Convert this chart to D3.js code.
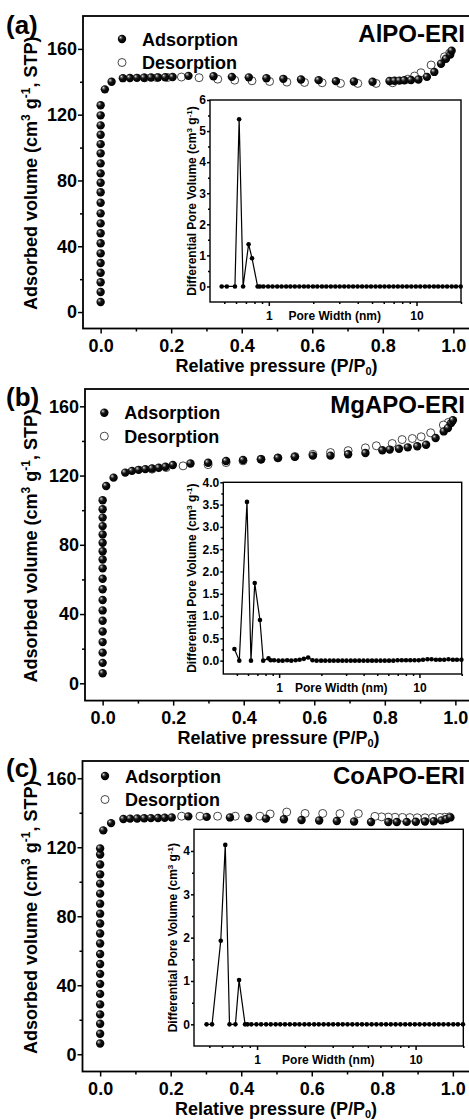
<!DOCTYPE html>
<html>
<head>
<meta charset="utf-8">
<script src="https://cdn.jsdelivr.net/npm/d3@7"></script>
<style>
  body { margin: 0; background: #fff; }
  svg text { font-family: "Liberation Sans", Arial, sans-serif; font-weight: bold; fill: #000; }
</style>
</head>
<body>
<div id="chart"></div>
<script>
// ---- isotherm data (P/P0, cm3/g) ----
var aAdsP = [0,0,0,0,0,0,0,0,0,0,0,0,0,0,0,0,0,0,0,0,0, 0.012,0.031,
  0.063,0.083,0.103,0.123,0.143,0.163,0.183,0.204,
  0.249,0.320,0.372,0.420,0.470,0.518,0.568,0.618,0.667,0.718,0.771,
  0.819,0.833,0.847,0.861,0.880, 0.901,0.925,0.946,0.965,0.979,0.991,0.995];
var aAdsV = [6.1,12.2,18.1,23.9,29.8,35.7,41.8,47.9,53.9,60.0,66.5,72.8,78.6,84.3,90.4,96.5,102.1,107.8,113.5,119.6,125.7, 135.4,140.0,
  142.2,142.3,142.4,142.5,142.6,142.7,142.8,142.9,
  143.6,143.4,143.0,142.7,142.2,141.8,141.4,141.0,140.4,140.2,140.0,
  140.5,140.6,140.7,140.9,141.1, 141.4,143.0,146.0,151.0,154.0,156.5,158.9];
var aDesP = [0.989,0.975,0.937,0.908,0.890,0.871,0.828,0.781,0.729,0.680,0.628,0.578,0.528,0.479,0.429,0.380,0.332,0.279,0.229,0.190,0.160,0.125];
var aDesV = [157.3,155.2,150.2,145.5,143.5,141.6,139.4,139.0,139.0,139.0,139.4,139.6,139.8,140.2,140.6,141.0,141.6,142.5,142.9,142.6,142.5,142.4];

var bAdsP = [0,0,0,0,0,0,0,0,0,0,0,0,0,0,0,0,0,0,0, 0.010,0.031,
  0.064,0.083,0.102,0.121,0.140,0.159,0.178,0.199,
  0.249,0.299,0.350,0.398,0.449,0.497,0.545,0.596,0.646,0.696,0.745,0.793,
  0.814,0.840,0.865,0.892,0.917,0.944,0.967,0.979,0.988,0.993];
var bAdsV = [5.8,11.8,17.7,23.8,29.9,36.1,42.1,48.1,54.3,60.4,66.4,71.5,76.3,81.2,86.0,90.8,95.7,100.5,105.7, 114.0,118.8,
  121.7,122.7,123.3,123.7,124.1,124.5,125.1,126.1,
  127.0,127.4,128.4,129.0,129.4,130.2,130.8,131.5,131.5,132.3,133.0,134.6,
  135.0,135.5,136.3,136.9,137.8,141.7,145.5,147.5,150.3,152.0];
var bDesP = [0.980,0.966,0.930,0.903,0.878,0.849,0.821,0.776,0.745,0.696,0.646,0.596,0.545,0.497,0.449,0.398,0.350,0.299,0.228,0.180,0.140];
var bDesV = [150.7,149.2,144.7,142.4,141.4,140.8,138.5,137.2,136.0,134.4,133.3,132.3,131.0,130.2,129.4,128.5,127.5,126.3,125.6,124.6,123.7];

var cAdsP = [0,0,0,0,0,0,0,0,0,0,0,0,0,0,0,0,0,0,0,0,0, 0.009,0.031,
  0.066,0.085,0.105,0.125,0.144,0.164,0.183,0.203,
  0.250,0.302,0.368,0.420,0.470,0.521,0.571,0.621,0.671,0.720,0.768,
  0.817,0.841,0.869,0.895,0.921,0.946,0.968,0.982,0.993];
var cAdsV = [6.2,11.9,17.7,23.1,28.9,35.0,40.8,46.6,52.3,58.1,64.2,70.0,75.8,81.5,87.3,93.1,98.9,104.3,110.0,115.8,119.3, 129.8,134.0,
  136.4,136.6,136.7,136.8,136.9,137.0,137.1,137.3,
  137.9,137.6,137.3,137.0,136.6,136.2,135.8,135.5,135.2,134.9,134.6,
  134.6,134.6,134.7,134.8,134.9,135.1,135.6,136.4,137.3];
var cDesP = [0.990,0.977,0.963,0.942,0.921,0.899,0.878,0.857,0.836,0.817,0.798,0.779,0.732,0.680,0.631,0.581,0.529,0.482,0.453,0.383,0.333,0.283,0.231];
var cDesV = [137.6,137.4,137.3,137.2,137.1,137.1,137.2,137.3,137.4,137.5,137.6,137.9,139.5,139.5,139.6,139.6,140.4,139.3,138.0,138.0,138.0,138.0,138.0];

// ---- pore size distribution (nm, cm3/g) ----
var poreWidth = [0.48,0.52,0.59,0.63,0.67,0.73,0.77,0.84,0.87,
  0.92,0.99,1.06,1.14,1.22,1.31,1.40,1.50,1.61,1.73,1.85,1.99,2.13,2.29,2.45,2.63,2.82,3.02,3.24,3.47,3.72,
  3.99,4.28,4.59,4.92,5.28,5.66,6.07,6.51,6.98,7.48,8.02,8.60,9.22,9.89,10.6,11.4,12.2,13.1,14.0,15.0,
  16.1,17.3,18.5,19.9];
var aPoreV = [0,0,0,5.38,0,1.36,0.91,0,0,
  0,0,0,0,0,0,0,0,0,0,0,0,0,0,0,0,0,0,0,0,0,
  0,0,0,0,0,0,0,0,0,0,0,0,0,0,0,0,0,0,0,0,
  0,0,0,0];
var bPoreV = [0.26,0,3.56,0,1.74,0.91,0,0.05,0.01,
  0.01,0,0,0.01,0,0.01,0.02,0.04,0.07,0.01,0,0,0,0,0,0,0,0,0,0,0,
  0,0,0,0,0,0,0,0,0.01,0.01,0.01,0.01,0.01,0.01,0.02,0.03,0.03,0.02,0.02,0.02,
  0.03,0.02,0.02,0.02];
var cPoreV = [0,0,1.93,4.14,0,0,1.02,0,0,
  0,0,0,0,0,0,0,0,0,0,0,0,0,0,0,0,0,0,0,0,0,
  0,0,0,0,0,0,0,0,0,0,0,0,0,0,0,0,0,0,0,0,
  0,0,0,0];

// ---- tick values ----
var xTicks = [0, 0.2, 0.4, 0.6, 0.8, 1.0];
var xMinorTicks = [0.1, 0.3, 0.5, 0.7, 0.9];
var yTicks = [0, 40, 80, 120, 160];
var yMinorTicks = [20, 60, 100, 140];
var poreTicks = [1, 10];
var poreMinorTicks = [0.5, 0.6, 0.7, 0.8, 0.9, 2, 3, 4, 5, 6, 7, 8, 9, 20];
var aInsetTicks = [0, 1, 2, 3, 4, 5, 6];
var aInsetMinor = [0.5, 1.5, 2.5, 3.5, 4.5, 5.5];
var bInsetTicks = [0, 0.5, 1.0, 1.5, 2.0, 2.5, 3.0, 3.5, 4.0];
var bInsetMinor = [0.25, 0.75, 1.25, 1.75, 2.25, 2.75, 3.25, 3.75];
var cInsetTicks = [0, 1, 2, 3, 4];
var cInsetMinor = [0.5, 1.5, 2.5, 3.5];

var svg = d3.select("#chart")
  .append("svg")
    .attr("width", 469)
    .attr("height", 1120);

// shaded sphere for the adsorption markers
var grad = svg.append("defs").append("radialGradient")
    .attr("id", "ball")
    .attr("cx", "40%").attr("cy", "40%").attr("r", "60%")
    .attr("fx", "32%").attr("fy", "30%");
grad.append("stop").attr("offset", "0%").attr("stop-color", "#f4f4f4");
grad.append("stop").attr("offset", "18%").attr("stop-color", "#777");
grad.append("stop").attr("offset", "45%").attr("stop-color", "#111");
grad.append("stop").attr("offset", "100%").attr("stop-color", "#000");

function cleanAxis(g, fontSize) {
  g.attr("font-size", null).attr("font-family", null);
  g.select(".domain").remove();
  g.selectAll("line").attr("stroke", "#000").attr("stroke-width", 1.5);
  g.selectAll("text").style("font-size", fontSize + "px");
}

function drawPanel(p) {
  var width = 388;
  var bottom = p.top + p.height;
  var x = d3.scaleLinear().domain([-0.05, 1.05]).range([p.left, p.left + width]);
  var y = d3.scaleLinear().domain([-10, p.yMax]).range([bottom, p.top]);

  // axes
  svg.append("g").attr("transform", "translate(0," + bottom + ")")
    .call(d3.axisBottom(x).tickValues(xMinorTicks).tickSize(3).tickFormat(""))
    .call(cleanAxis, 18);
  svg.append("g").attr("transform", "translate(0," + bottom + ")")
    .call(d3.axisBottom(x).tickValues(xTicks).tickSize(5).tickPadding(5.5).tickFormat(d3.format(".1f")))
    .call(cleanAxis, 18);
  svg.append("g").attr("transform", "translate(" + p.left + ",0)")
    .call(d3.axisLeft(y).tickValues(yMinorTicks).tickSize(3).tickFormat(""))
    .call(cleanAxis, 18);
  svg.append("g").attr("transform", "translate(" + p.left + ",0)")
    .call(d3.axisLeft(y).tickValues(yTicks).tickSize(5).tickPadding(1))
    .call(cleanAxis, 18);

  svg.append("rect")
    .attr("x", p.left).attr("y", p.top)
    .attr("width", width).attr("height", p.height)
    .attr("fill", "none").attr("stroke", "#000").attr("stroke-width", 1.8);

  // axis titles
  var yl = svg.append("text")
    .attr("transform", "translate(37," + (p.top + p.height / 2 + 1) + ") rotate(-90)")
    .attr("text-anchor", "middle")
    .style("font-size", "18px");
  yl.append("tspan").text("Adsorbed volume (cm");
  yl.append("tspan").attr("dy", -7).style("font-size", "12px").text("3");
  yl.append("tspan").attr("dy", 7).text(" g");
  yl.append("tspan").attr("dy", -7).style("font-size", "12px").text("-1");
  yl.append("tspan").attr("dy", 7).text(", STP)");

  var xl = svg.append("text")
    .attr("x", p.left + width / 2 - 0.5).attr("y", bottom + 43.5)
    .attr("text-anchor", "middle")
    .style("font-size", "18px");
  xl.append("tspan").text("Relative pressure (P/P");
  xl.append("tspan").attr("dy", 3).style("font-size", "11px").text("0");
  xl.append("tspan").attr("dy", -3).text(")");

  // desorption (open) then adsorption (filled) markers
  svg.append("g").selectAll("circle")
    .data(d3.zip(p.desP, p.desV))
    .enter()
    .append("circle")
      .attr("cx", function(d) { return x(d[0]); })
      .attr("cy", function(d) { return y(d[1]); })
      .attr("r", 4)
      .attr("fill", "#fff")
      .attr("stroke", "#333")
      .attr("stroke-width", 0.9);
  svg.append("g").selectAll("circle")
    .data(d3.zip(p.adsP, p.adsV))
    .enter()
    .append("circle")
      .attr("cx", function(d) { return x(d[0]); })
      .attr("cy", function(d) { return y(d[1]); })
      .attr("r", 4.2)
      .attr("fill", "url(#ball)");

  // legend
  svg.append("circle").attr("cx", p.legX).attr("cy", p.legY).attr("r", 4.2).attr("fill", "url(#ball)");
  svg.append("circle").attr("cx", p.legX).attr("cy", p.legY + 23.5).attr("r", 4)
    .attr("fill", "#fff").attr("stroke", "#333").attr("stroke-width", 0.9);
  svg.append("text").attr("x", p.legX + 20).attr("y", p.legY + 6.5).style("font-size", "18px").text("Adsorption");
  svg.append("text").attr("x", p.legX + 20).attr("y", p.legY + 30).style("font-size", "18px").text("Desorption");

  // sample name and panel letter
  svg.append("text").attr("x", 465).attr("y", p.titleY).attr("text-anchor", "end")
    .style("font-size", "24px").text(p.title);
  svg.append("text").attr("x", 6).attr("y", p.labelY).style("font-size", "26px").text(p.label);

  // inset: pore size distribution
  var ins = p.inset;
  var xi = d3.scaleLog().domain([0.4, 20]).range([ins.left, ins.right]);
  var yi = d3.scaleLinear().domain([ins.yMin, ins.yMax]).range([ins.bottom, ins.top]);

  svg.append("rect")
    .attr("x", ins.left).attr("y", ins.top)
    .attr("width", ins.right - ins.left).attr("height", ins.bottom - ins.top)
    .attr("fill", "#fff").attr("stroke", "#000").attr("stroke-width", 1.4);

  svg.append("g").attr("transform", "translate(0," + ins.bottom + ")")
    .call(d3.axisBottom(xi).tickValues(poreMinorTicks).tickSize(2).tickFormat(""))
    .call(cleanAxis, 12);
  svg.append("g").attr("transform", "translate(0," + ins.bottom + ")")
    .call(d3.axisBottom(xi).tickValues(poreTicks).tickSize(4).tickPadding(5).tickFormat(d3.format("d")))
    .call(cleanAxis, 12);
  svg.append("g").attr("transform", "translate(" + ins.left + ",0)")
    .call(d3.axisLeft(yi).tickValues(ins.minor).tickSize(2).tickFormat(""))
    .call(cleanAxis, 12);
  svg.append("g").attr("transform", "translate(" + ins.left + ",0)")
    .call(d3.axisLeft(yi).tickValues(ins.major).tickSize(3).tickPadding(1).tickFormat(d3.format(ins.fmt)))
    .call(cleanAxis, 12);

  var il = svg.append("text")
    .attr("transform", "translate(" + ins.labelX + "," + (ins.top + ins.bottom) / 2 + ") rotate(-90)")
    .attr("text-anchor", "middle")
    .style("font-size", "12px");
  il.append("tspan").text("Differential Pore Volume (cm");
  il.append("tspan").attr("dy", -4).style("font-size", "8px").text("3");
  il.append("tspan").attr("dy", 4).text(" g");
  il.append("tspan").attr("dy", -4).style("font-size", "8px").text("-1");
  il.append("tspan").attr("dy", 4).text(")");

  svg.append("text")
    .attr("x", (xi(1) + xi(10)) / 2 - 8).attr("y", ins.bottom + 18)
    .attr("text-anchor", "middle")
    .style("font-size", "12px")
    .text("Pore Width (nm)");

  var psd = d3.zip(poreWidth, ins.values);
  svg.append("path")
    .datum(psd)
    .attr("fill", "none")
    .attr("stroke", "#000")
    .attr("stroke-width", 1.2)
    .attr("d", d3.line()
      .x(function(d) { return xi(d[0]); })
      .y(function(d) { return yi(d[1]); }));
  svg.append("g").selectAll("circle")
    .data(psd)
    .enter()
    .append("circle")
      .attr("cx", function(d) { return xi(d[0]); })
      .attr("cy", function(d) { return yi(d[1]); })
      .attr("r", 2.3)
      .attr("fill", "#000");
}

drawPanel({
  label: "(a)", labelY: 34, title: "AlPO-ERI", titleY: 42,
  left: 83, top: 16, height: 312.5, yMax: 180,
  adsP: aAdsP, adsV: aAdsV, desP: aDesP, desV: aDesV,
  legX: 122, legY: 39,
  inset: {left: 210, top: 100, right: 461, bottom: 302, yMin: -0.5, yMax: 6,
          major: aInsetTicks, minor: aInsetMinor, fmt: "d", values: aPoreV, labelX: 196}
});
drawPanel({
  label: "(b)", labelY: 406, title: "MgAPO-ERI", titleY: 413,
  left: 85, top: 389, height: 311.6, yMax: 170,
  adsP: bAdsP, adsV: bAdsV, desP: bDesP, desV: bDesV,
  legX: 104.3, legY: 412.7,
  inset: {left: 223.3, top: 482.3, right: 461.7, bottom: 674, yMin: -0.3, yMax: 4.0,
          major: bInsetTicks, minor: bInsetMinor, fmt: ".1f", values: bPoreV, labelX: 196}
});
drawPanel({
  label: "(c)", labelY: 777, title: "CoAPO-ERI", titleY: 784,
  left: 82.5, top: 761, height: 310.5, yMax: 170,
  adsP: cAdsP, adsV: cAdsV, desP: cDesP, desV: cDesV,
  legX: 105, legY: 776,
  inset: {left: 194, top: 829.3, right: 463.3, bottom: 1046, yMin: -0.5, yMax: 4.5,
          major: cInsetTicks, minor: cInsetMinor, fmt: "d", values: cPoreV, labelX: 177}
});
</script>
</body>
</html>
